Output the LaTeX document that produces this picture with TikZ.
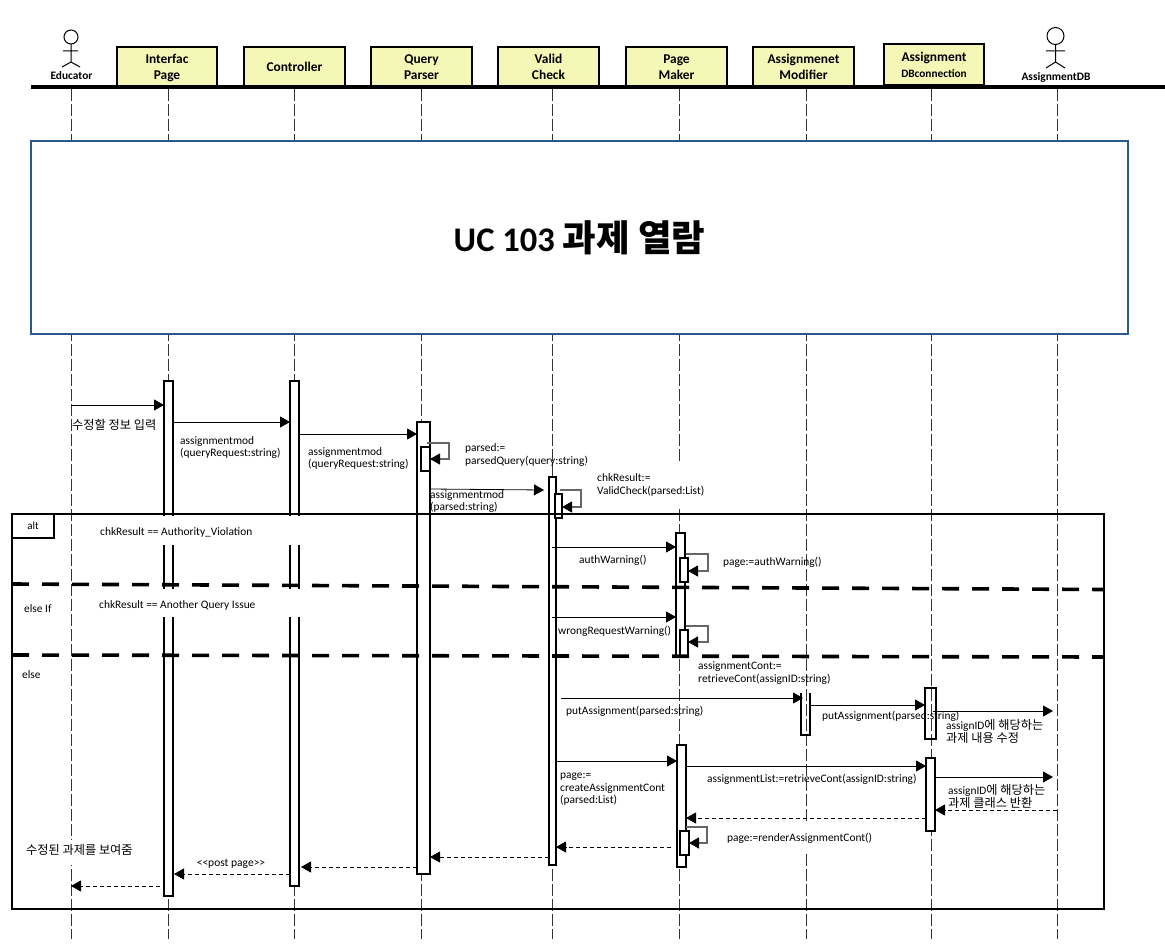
\documentclass[tikz,border=0pt]{standalone}
\usepackage{fontspec}
\setmainfont{Carlito}
\newfontfamily\krfont{Noto Sans CJK KR}
\newfontfamily\krbold{Noto Sans CJK KR Bold}
\usetikzlibrary{arrows.meta}
\definecolor{headfill}{HTML}{F4F7B6}
\definecolor{titleblue}{HTML}{2A5A8C}
\definecolor{lifegray}{HTML}{333333}
\newcommand{\fsz}[1]{\fontsize{#1}{#1}\selectfont}
\newcommand{\fszb}[2]{\fontsize{#1}{#2}\selectfont}
\newcommand{\kr}[1]{{\krfont\fontsize{12.2}{12.6}\selectfont #1}}
\newcommand{\hT}{\rule{0pt}{12pt}}
\newcommand{\hB}{\rule[-1pt]{0pt}{0pt}}
\tikzset{
  x=1pt,y=-1pt,
  headbox/.style={draw=black,line width=2pt,outer sep=0pt,fill=headfill,inner sep=0pt,align=center,font={\bfseries\fszb{13.4}{16}}},
  actorlabel/.style={font={\bfseries\fsz{11.4}},inner sep=0pt},
  actorline/.style={draw=black,line width=1pt},
  lifeline/.style={draw=lifegray,line width=0.8pt,dash pattern=on 12pt off 3pt},
  actbar/.style={draw=black,line width=2pt,outer sep=0pt,fill=white,inner sep=0pt},
  openbar/.style={draw=black,line width=2pt,outer sep=0pt,inner sep=0pt},
  nobar/.style={inner sep=0pt,outer sep=0pt},
  msg/.style={draw=black,line width=0.8pt,-{Triangle[length=10pt,width=11pt]}},
  ret/.style={draw=black,line width=0.8pt,dash pattern=on 4pt off 3pt,-{Triangle[length=10pt,width=11pt]}},
  selfmsg/.style={draw=black!60,line width=1.2pt,-{Triangle[length=10pt,width=11pt,color=black]}},
  lbl/.style={anchor=west,inner sep=0pt,yshift=-0.4pt,align=left,font={\fszb{11.4}{12.6}}},
  mask/.style={fill=white,draw=none},
  frameline/.style={draw=black,line width=2pt},
  guard/.style={draw=black,line width=3.6pt,line cap=butt}
}
\newcommand{\actbox}[6][actbar]{\node[#1,minimum width={#5-#3},minimum height={#6-#4}] (#2) at ({(#3+#5)/2},{(#4+#6)/2}) {};}
\begin{document}
\begin{tikzpicture}
\useasboundingbox[fill=white] (0,0) rectangle (1165,952);
% header boxes
\node[headbox,minimum width=100,minimum height=39] (hIface) at (167,66.5) {\hT Interfac\\Page\hB};
\node[headbox,minimum width=101,minimum height=39] (hCtrl) at (294.5,66.5) {\hT Controller\hB};
\node[headbox,minimum width=101,minimum height=39] (hQuery) at (421.5,66.5) {\hT Query\\Parser\hB};
\node[headbox,minimum width=101,minimum height=39] (hValid) at (548.5,66.5) {\hT Valid\\Check\hB};
\node[headbox,minimum width=101,minimum height=39] (hPage) at (676.5,66.5) {\hT Page\\Maker\hB};
\node[headbox,minimum width=101,minimum height=39] (hMod) at (803.5,66.5) {\hT Assignmenet\\Modifier\hB};
\node[headbox,minimum width=100,minimum height=41] (hDB) at (934,64.5) {\hT Assignment\\{\fsz{11.3}DBconnection}\hB};
\coordinate (headL) at (31,87);
\coordinate (headR) at (1165,87);
% actors
\coordinate (eduHead) at (71,37);
\coordinate (dbHead) at (1055.5,36);
\draw[actorline] (eduHead) circle (7);
\draw[actorline] (71,44) -- (71,62) (63,51) -- (78,51) (62,67) -- (71,62) -- (80,67);
\draw[actorline] (dbHead) circle (8.5);
\draw[actorline] (1055.5,44.5) -- (1055.5,62) (1046,51) -- (1065,51) (1046,68) -- (1055.5,62) -- (1065,68);
\node[actorlabel] (lEdu) at (71.5,76) {Educator};
\node[actorlabel] (lDBa) at (1056,77) {AssignmentDB};
% lifelines
\foreach \n/\xx in {a/71,b/168,c/294,d/421,e/552,f/679,g/806,h/931,i/1057}{
  \coordinate (top\n) at (\xx,89);
  \coordinate (bot\n) at (\xx,939);
  \draw[lifeline] (top\n) -- (bot\n);
}
\draw[line width=4pt] (headL) -- (headR);
% title
\node[draw=titleblue,line width=1.5pt,fill=white,minimum width=1097,minimum height=193,inner sep=0pt,font={\bfseries\fsz{34.5}}] (title) at (579.5,237.5) {UC 103 {\krbold\fsz{36.5}과제 열람}};
% activation bars
\actbox{bIface}{164}{381}{173}{896}
\actbox{bCtrl}{290}{381}{299}{886}
\actbox{bQuery}{417}{422}{430}{874}
\actbox{bQuerySub}{421}{447}{430}{471}
\actbox{bValid}{549}{477}{556}{865}
\actbox{bValidSub}{555}{494}{562}{518}
\actbox{bPageA}{676}{533}{685}{656}
\actbox{bPageSubA}{680}{558}{688}{582}
\actbox{bPageSubB}{680}{630}{688}{656}
\actbox{bPageB}{677}{745}{686}{867}
\actbox{bPageSubC}{680}{831}{689}{855}
\actbox[nobar]{bMod}{801}{693}{810}{735}
\draw[openbar] (bMod.north west) -- (bMod.south west) -- (bMod.south east) -- (bMod.north east);
\actbox[openbar]{bDBa}{925}{688}{936}{739}
\actbox{bDBb}{926}{758}{935}{831}
% text whose lower edge is hidden by the mask below it
\node[lbl] (tParsed) at (465,454.5) {parsed:=\\parsedQuery(query:string)};
% masks
\fill[mask] (85,516) rectangle (305,545);
\fill[mask] (85,589) rectangle (305,617);
\fill[mask] (586,463) rectangle (712,507);
\fill[mask] (20,840) rectangle (140,865);
\fill[mask] (722,822) rectangle (880,852);
% alt frame
\node[frameline,minimum width=1092,minimum height=395,inner sep=0pt,outer sep=0pt] (altFrame) at (558,711.5) {};
\node[frameline,minimum width=42,minimum height=24,inner sep=0pt,outer sep=0pt,font={\fsz{11}}] (altTag) at (33,526) {alt};
% guard separators: one stroke per dash, 17 on and 13 off
\foreach \i in {0,...,36}{
  \pgfmathsetmacro{\xa}{12+30*\i}
  \pgfmathsetmacro{\xb}{min(\xa+17,1104)}
  \draw[guard] (\xa,{584+5.5*(\xa-12)/1092}) -- (\xb,{584+5.5*(\xb-12)/1092});
  \draw[guard] (\xa,{655+2*(\xa-12)/1092}) -- (\xb,{655+2*(\xb-12)/1092});
}
% messages
\draw[msg] (topa |- 0,405) -- (bIface.west |- 0,405);
\draw[msg] (bIface.east |- 0,422) -- (bCtrl.west |- 0,422);
\draw[msg] (bCtrl.east |- 0,434) -- (bQuery.west |- 0,434);
\draw[msg] (bQuery.east |- 0,489) -- (544,490);
\draw[msg] (tope |- 0,547) -- (bPageA.west |- 0,547);
\draw[msg] (tope |- 0,617) -- (bPageA.west |- 0,617);
\draw[msg] (561,698) -- (803,698);
\draw[msg] (bMod.east |- 0,705) -- (bDBa.west |- 0,705);
\draw[msg] (933,711) -- (1053,711);
\draw[msg] (bValid.east |- 0,761) -- (bPageB.west |- 0,761);
\draw[msg] (bPageB.east |- 0,766) -- (bDBb.west |- 0,766);
\draw[msg] (bDBb.east |- 0,777) -- (1053,777);
% self messages
\draw[selfmsg] (427,443) -- (449,443) -- (449,459) -- (bQuerySub.east |- 0,459);
\draw[selfmsg] (560,490) -- (581,490) -- (581,507) -- (bValidSub.east |- 0,507);
\draw[selfmsg] (686,554) -- (708,554) -- (708,571) -- (bPageSubA.east |- 0,571);
\draw[selfmsg] (686,626) -- (708,626) -- (708,642) -- (bPageSubB.east |- 0,642);
\draw[selfmsg] (686,827) -- (707,827) -- (707,843) -- (bPageSubC.east |- 0,843);
% returns
\draw[ret] (topi |- 0,810) -- (bDBb.east |- 0,810);
\draw[ret] (bDBb.west |- 0,818) -- (bPageB.east |- 0,818);
\draw[ret] (671,847) -- (bValid.east |- 0,847);
\draw[ret] (bValid.west |- 0,857) -- (bQuery.east |- 0,857);
\draw[ret] (bQuery.west |- 0,867) -- (301,867);
\draw[ret] (bCtrl.west |- 0,874) -- (174,874);
\draw[ret] (160,886) -- (topa |- 0,886);
% labels
\node[lbl] (t1) at (72,424) {\kr{수정할 정보 입력}};
\node[lbl] (t2) at (180,447) {assignmentmod\\(queryRequest:string)};
\node[lbl] (t3) at (308,458) {assignmentmod\\(queryRequest:string)};
\node[lbl] (t4) at (430,501) {assignmentmod\\ (parsed:string)};
\node[lbl] (t5) at (597,484.5) {chkResult:=\\ValidCheck(parsed:List)};
\node[lbl] (t6) at (100,532) {chkResult == Authority\_Violation};
\node[lbl] (t7) at (579,560) {authWarning()};
\node[lbl] (t8) at (723,562) {page:=authWarning()};
\node[lbl] (t9) at (24,608) {else If};
\node[lbl] (t10) at (99,605) {chkResult == Another Query Issue};
\node[lbl] (t11) at (558,631) {wrongRequestWarning()};
\node[lbl] (t12) at (22,674) {else};
\node[lbl] (t13) at (698,672.5) {assignmentCont:=\\retrieveCont(assignID:string)};
\node[lbl] (t14) at (566,711) {putAssignment(parsed:string)};
\node[lbl] (t15) at (822,716) {putAssignment(parsed:string)};
\node[lbl] (t16) at (946,731) {assignID\kr{에 해당하는}\\\kr{과제 내용 수정}};
\node[lbl] (t17) at (707,779) {assignmentList:=retrieveCont(assignID:string)};
\node[lbl] (t18) at (948,796) {assignID\kr{에 해당하는}\\\kr{과제 클래스 반환}};
\node[lbl] (t19) at (560,789) {page:=\\createAssignmentCont\\(parsed:List)};
\node[lbl] (t20) at (727,838) {page:=renderAssignmentCont()};
\node[lbl] (t21) at (26,850) {\kr{수정된 과제를 보여줌}};
\node[lbl,anchor=center,font={\fsz{11.5}},yshift=1pt] (t22) at (231,864) {<{}<post page>{}>};
\end{tikzpicture}
\end{document}
